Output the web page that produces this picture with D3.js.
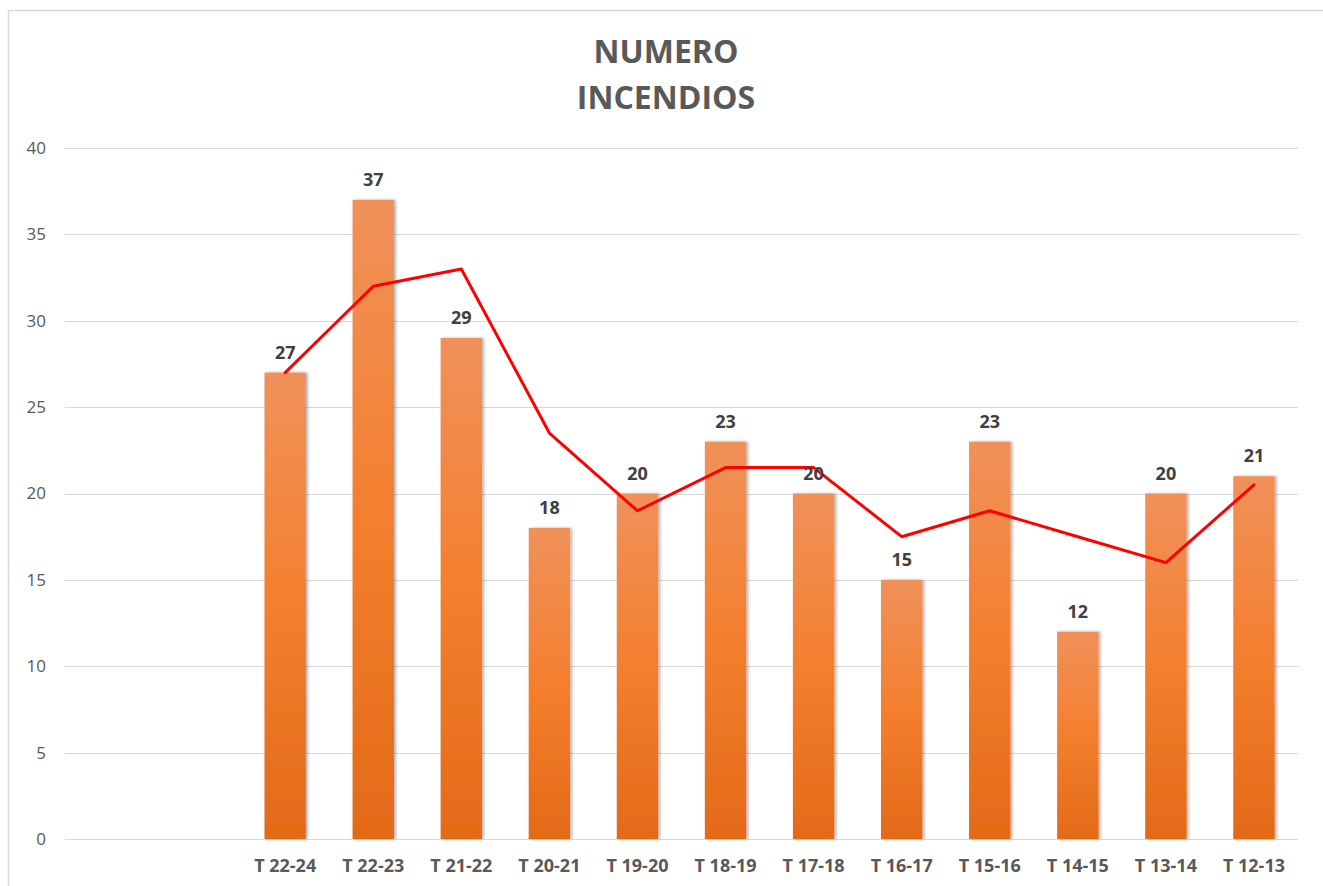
<!DOCTYPE html>
<html>
<head>
<meta charset="utf-8">
<script src="https://cdn.jsdelivr.net/npm/d3@7"></script>
<style>
  html, body { margin: 0; padding: 0; background: #fff; }
  svg { display: block; }
  text { font-family: "Open Sans", "Liberation Sans", sans-serif; }
</style>
</head>
<body>
<script>
// Seasons (two empty leading slots on the category axis)
const categories = ["", " ", "T 22-24", "T 22-23", "T 21-22", "T 20-21", "T 19-20", "T 18-19", "T 17-18", "T 16-17", "T 15-16", "T 14-15", "T 13-14", "T 12-13"];
// Number of fires per season
const fires = [null, null, 27, 37, 29, 18, 20, 23, 20, 15, 23, 12, 20, 21];
// Two-period moving average trend
const trend = [null, null, 27, 32, 33, 23.5, 19, 21.5, 21.5, 17.5, 19, 17.5, 16, 20.5];
const yTicks = [0, 5, 10, 15, 20, 25, 30, 35, 40];
const titleLines = ["NUMERO", "INCENDIOS"];

const W = 1323, H = 886;
const margin = { left: 65, right: 25, top: 148, bottom: 47 };

const svg = d3.select("body").append("svg").attr("width", W).attr("height", H);

// chart area frame
svg.append("rect")
  .attr("x", 8.5).attr("y", 10.5).attr("width", W + 10).attr("height", H + 10)
  .attr("fill", "#fff").attr("stroke", "#d9d9d9").attr("stroke-width", 1.5);

const defs = svg.append("defs");
const grad = defs.append("linearGradient").attr("id", "barGrad")
  .attr("x1", 0).attr("y1", 0).attr("x2", 0).attr("y2", 1);
grad.append("stop").attr("offset", "0%").attr("stop-color", "#F0915A");
grad.append("stop").attr("offset", "50%").attr("stop-color", "#F47F2E");
grad.append("stop").attr("offset", "100%").attr("stop-color", "#E36A18");

const shadow = defs.append("filter").attr("id", "barShadow")
  .attr("x", "-20%").attr("y", "-5%").attr("width", "150%").attr("height", "110%");
shadow.append("feDropShadow").attr("dx", 2).attr("dy", 0).attr("stdDeviation", 1.5)
  .attr("flood-color", "#000").attr("flood-opacity", 0.3);

const x = d3.scaleBand().domain(categories)
  .range([margin.left, W - margin.right]).paddingInner(0.53).paddingOuter(0.265);
const y = d3.scaleLinear().domain([0, 40]).range([H - margin.bottom, margin.top]);

// horizontal gridlines
svg.append("g").selectAll("line").data(yTicks).join("line")
  .attr("x1", margin.left).attr("x2", W - margin.right)
  .attr("y1", d => Math.round(y(d)) + 0.5).attr("y2", d => Math.round(y(d)) + 0.5)
  .attr("stroke", "#d9d9d9").attr("stroke-width", 1);

// y axis labels
const yAxis = d3.axisLeft(y).tickValues(yTicks).tickSize(0).tickPadding(0);
const gy = svg.append("g").attr("transform", `translate(${margin.left - 19},0)`).call(yAxis);
gy.select(".domain").remove();
gy.selectAll("text").attr("font-size", 17).attr("fill", "#595959")
  .attr("font-family", "'Open Sans', sans-serif");

// x axis labels
const xAxis = d3.axisBottom(x).tickSize(0).tickPadding(0);
const gx = svg.append("g").attr("transform", `translate(0,${H - margin.bottom + 20})`).call(xAxis);
gx.select(".domain").remove();
gx.selectAll("text").attr("font-size", 18).attr("font-weight", "bold").attr("fill", "#595959")
  .attr("font-family", "'Open Sans', sans-serif");

// bars
const barData = categories.map((c, i) => ({ c, v: fires[i] })).filter(d => d.v != null);
svg.append("g").selectAll("rect").data(barData).join("rect")
  .attr("x", d => x(d.c)).attr("width", x.bandwidth())
  .attr("y", d => y(d.v)).attr("height", d => y(0) - y(d.v))
  .attr("fill", "url(#barGrad)").attr("filter", "url(#barShadow)");

// trend line
const trendData = categories.map((c, i) => ({ c, v: trend[i] })).filter(d => d.v != null);
svg.append("path").datum(trendData)
  .attr("d", d3.line().x(d => x(d.c) + x.bandwidth() / 2).y(d => y(d.v)))
  .attr("fill", "none").attr("stroke", "#FF0000").attr("stroke-width", 3)
  .attr("stroke-linejoin", "round").attr("stroke-linecap", "round");

// value labels
svg.append("g").selectAll("text").data(barData).join("text")
  .attr("x", d => x(d.c) + x.bandwidth() / 2).attr("y", d => y(d.v) - 14)
  .attr("text-anchor", "middle").attr("font-size", 18).attr("font-weight", "bold")
  .attr("fill", "#404040").text(d => d.v);

// title
svg.append("g").selectAll("text").data(titleLines).join("text")
  .attr("x", 666).attr("y", (d, i) => 63 + i * 46)
  .attr("text-anchor", "middle").attr("font-size", 32).attr("font-weight", "bold")
  .attr("fill", "#595959").text(d => d);
</script>
</body>
</html>
